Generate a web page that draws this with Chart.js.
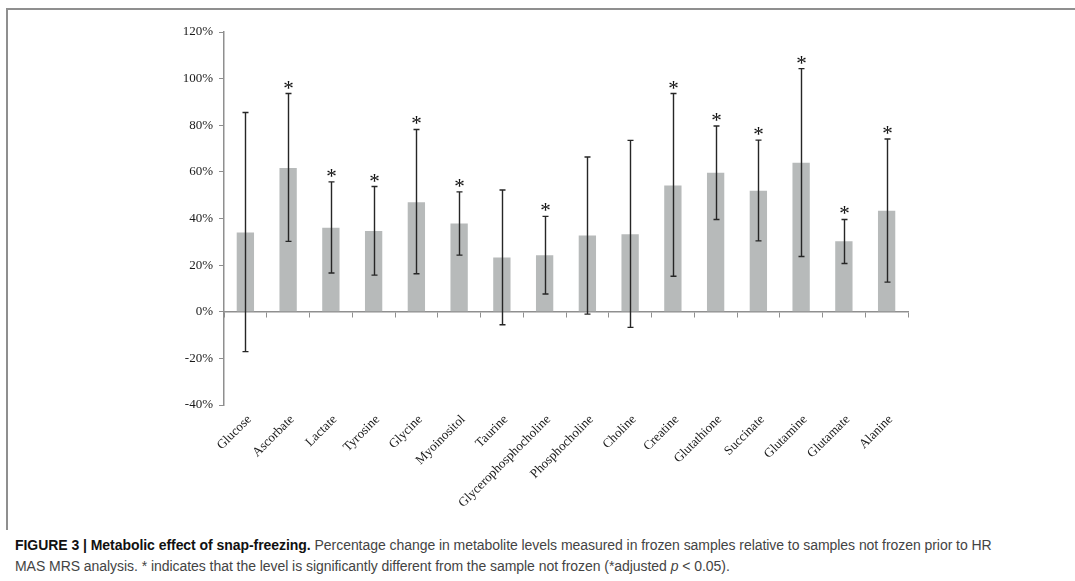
<!DOCTYPE html>
<html>
<head>
<meta charset="utf-8">
<script src="https://cdn.jsdelivr.net/npm/chart.js@4/dist/chart.umd.min.js"></script>
<style>
  html, body { margin: 0; padding: 0; background: #fff; }
  body { width: 1075px; height: 581px; position: relative; overflow: hidden; }
  #frame {
    position: absolute; left: 6px; top: 8px; width: 1080px; height: 520px;
    border-top: 2px solid #8f8f8f; border-left: 2px solid #8f8f8f;
  }
  #chartWrap { position: absolute; left: 0; top: 0; width: 1075px; height: 520px; }
  #caption {
    position: absolute; left: 15px; top: 535px; width: 1055px;
    font-family: "Liberation Sans Narrow", "Liberation Sans", sans-serif;
    font-size: 14px; line-height: 21px; color: #444; letter-spacing: -0.05px;
  }
  #caption b { color: #111; }
</style>
</head>
<body>
<div id="frame"></div>
<div id="chartWrap"><canvas id="snapChart" width="1075" height="520"></canvas></div>
<div id="caption"><b>FIGURE 3 | Metabolic effect of snap-freezing.</b> Percentage change in metabolite levels measured in frozen samples relative to samples not frozen prior to HR<br>MAS MRS analysis. * indicates that the level is significantly different from the sample not frozen (*adjusted <i>p</i> &lt; 0.05).</div>
<script>
// Metabolites (x categories)
const metabolites = ["Glucose", "Ascorbate", "Lactate", "Tyrosine", "Glycine", "Myoinositol", "Taurine",
  "Glycerophosphocholine", "Phosphocholine", "Choline", "Creatine", "Glutathione", "Succinate",
  "Glutamine", "Glutamate", "Alanine"];

// Mean % change (bar heights)
const meanChange = [34.0, 61.7, 36.0, 34.6, 47.0, 37.9, 23.3, 24.2, 32.7, 33.2, 54.2, 59.6, 51.9, 63.9, 30.2, 43.3];

// Error bar ends
const errHigh = [85.5, 93.6, 55.7, 53.7, 78.2, 51.4, 52.2, 40.9, 66.4, 73.5, 93.6, 79.7, 73.6, 104.3, 39.6, 74.1];
const errLow = [-17.1, 30.2, 16.6, 15.7, 16.3, 24.3, -5.6, 7.6, -1.0, -6.7, 15.2, 39.6, 30.4, 23.7, 20.7, 12.7];

// significant (*)
const significant = [false, true, true, true, true, true, false, true, false, false, true, true, true, true, true, true];

// y tick values
const yTicks = [-40, -20, 0, 20, 40, 60, 80, 100, 120];

const serif = "'Liberation Serif', 'Times New Roman', serif";
const axisGray = "#8f8f8f";

const errorBars = {
  id: "errorBars",
  afterDatasetsDraw(chart) {
    const { ctx } = chart;
    const x = chart.scales.x;
    const y = chart.scales.y;
    ctx.save();
    ctx.strokeStyle = "#262626";
    ctx.lineWidth = 1.4;
    ctx.fillStyle = "#111";
    ctx.font = "21px " + serif;
    ctx.textAlign = "center";
    ctx.textBaseline = "alphabetic";
    meanChange.forEach((m, i) => {
      const px = Math.round(x.getPixelForValue(i)) + 0.5;
      const top = y.getPixelForValue(errHigh[i]);
      const bot = y.getPixelForValue(errLow[i]);
      ctx.beginPath();
      ctx.moveTo(px, top); ctx.lineTo(px, bot);
      ctx.moveTo(px - 3, top); ctx.lineTo(px + 3, top);
      ctx.moveTo(px - 3, bot); ctx.lineTo(px + 3, bot);
      ctx.stroke();
      if (significant[i]) ctx.fillText("*", px, top + 1);
    });
    ctx.restore();
  }
};

new Chart(document.getElementById("snapChart").getContext("2d"), {
  type: "bar",
  data: {
    labels: metabolites,
    datasets: [{
      data: meanChange,
      backgroundColor: "#b7baba",
      borderWidth: 0,
      barPercentage: 0.405,
      categoryPercentage: 1
    }]
  },
  options: {
    responsive: false,
    animation: false,
    events: [],
    layout: { padding: { left: 150, right: 167, top: 32, bottom: 0 } },
    plugins: { legend: { display: false }, tooltip: { enabled: false } },
    scales: {
      x: {
        position: "bottom",
        offset: true,
        grid: { display: false, drawTicks: false },
        border: { display: false },
        ticks: {
          autoSkip: false, minRotation: 45, maxRotation: 45, padding: 7, labelOffset: 4,
          color: "#1a1a1a", font: { family: serif, size: 13 }
        },
        afterFit: (s) => { s.height = 115; }
      },
      x0: {
        type: "category",
        labels: metabolites,
        position: { y: 0 },
        offset: true,
        grid: { offset: true, drawOnChartArea: false, tickLength: 5, color: axisGray, lineWidth: 1 },
        border: { color: axisGray, width: 1.5 },
        ticks: { display: false }
      },
      y: {
        min: -40,
        max: 120,
        afterBuildTicks: (s) => { s.ticks = yTicks.map(v => ({ value: v })); },
        grid: { drawOnChartArea: false, tickLength: 5, color: axisGray },
        border: { color: axisGray, width: 1.5 },
        ticks: {
          padding: 6, color: "#1a1a1a", font: { family: serif, size: 13 },
          callback: v => v + "%"
        },
        afterFit: (s) => { s.width = 74; }
      }
    }
  },
  plugins: [errorBars]
});
</script>
</body>
</html>
